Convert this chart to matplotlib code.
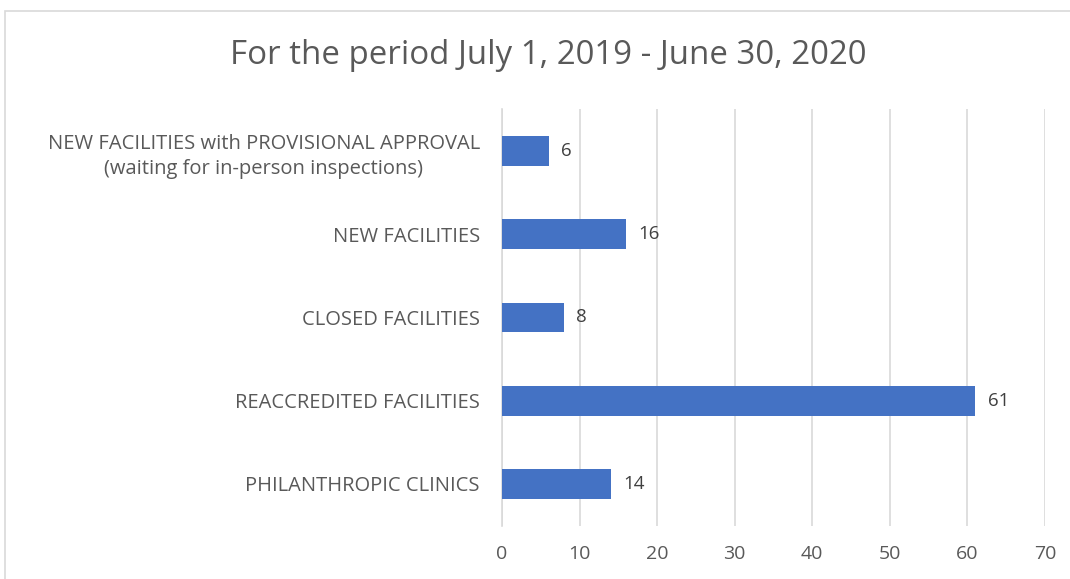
import matplotlib
matplotlib.use("Agg")
import matplotlib.pyplot as plt
from matplotlib.patches import Rectangle

categories = [
    "NEW FACILITIES with PROVISIONAL APPROVAL\n(waiting for in-person inspections)",
    "NEW FACILITIES",
    "CLOSED FACILITIES",
    "REACCREDITED FACILITIES",
    "PHILANTHROPIC CLINICS",
]
values = [6, 16, 8, 61, 14]
xticks = [0, 10, 20, 30, 40, 50, 60, 70]
title = "For the period July 1, 2019 - June 30, 2020"

plt.rcParams['font.family'] = ['Open Sans', 'DejaVu Sans']
W, H = 1070, 579
fig = plt.figure(figsize=(W/100, H/100), dpi=100)
fig.patches.append(Rectangle((5/W, -0.2), 1.2, 1.2 - 11/H, transform=fig.transFigure,
                             fill=False, edgecolor='#D9D9D9', linewidth=1.2))
ax = fig.add_axes([502/W, 1 - 525.6/H, (1045-502)/W, (525.6-109.4)/H])

y = list(range(len(categories)))
ax.barh(y, values, height=0.36, color='#4472C4', zorder=3)
for yi, v in zip(y, values):
    ax.text(v + 1.6, yi, str(v), va='center', ha='left', fontsize=13.5, color='#404040')

ax.set_xlim(0, 70)
ax.set_ylim(len(categories) - 0.5, -0.5)
ax.set_xticks(xticks)
ax.set_xticklabels([str(t) for t in xticks])
ax.set_yticks(y)
ax.set_yticklabels(categories, fontsize=14.5, color='#595959', ha='right',
                   multialignment='center', linespacing=1.35)
ax.tick_params(axis='y', length=0, pad=16)
ax.tick_params(axis='x', length=0, labelsize=14, labelcolor='#595959', pad=14)
ax.grid(axis='x', color='#D9D9D9', linewidth=1.2, zorder=0)
for s in ['top', 'right', 'bottom']:
    ax.spines[s].set_visible(False)
ax.spines['left'].set_color('#D9D9D9')
ax.spines['left'].set_linewidth(1.2)

fig.text(548/W, 1 - 55/H, title, ha='center', va='center', fontsize=23.8, color='#595959')

fig.savefig("out.png", dpi=100)
